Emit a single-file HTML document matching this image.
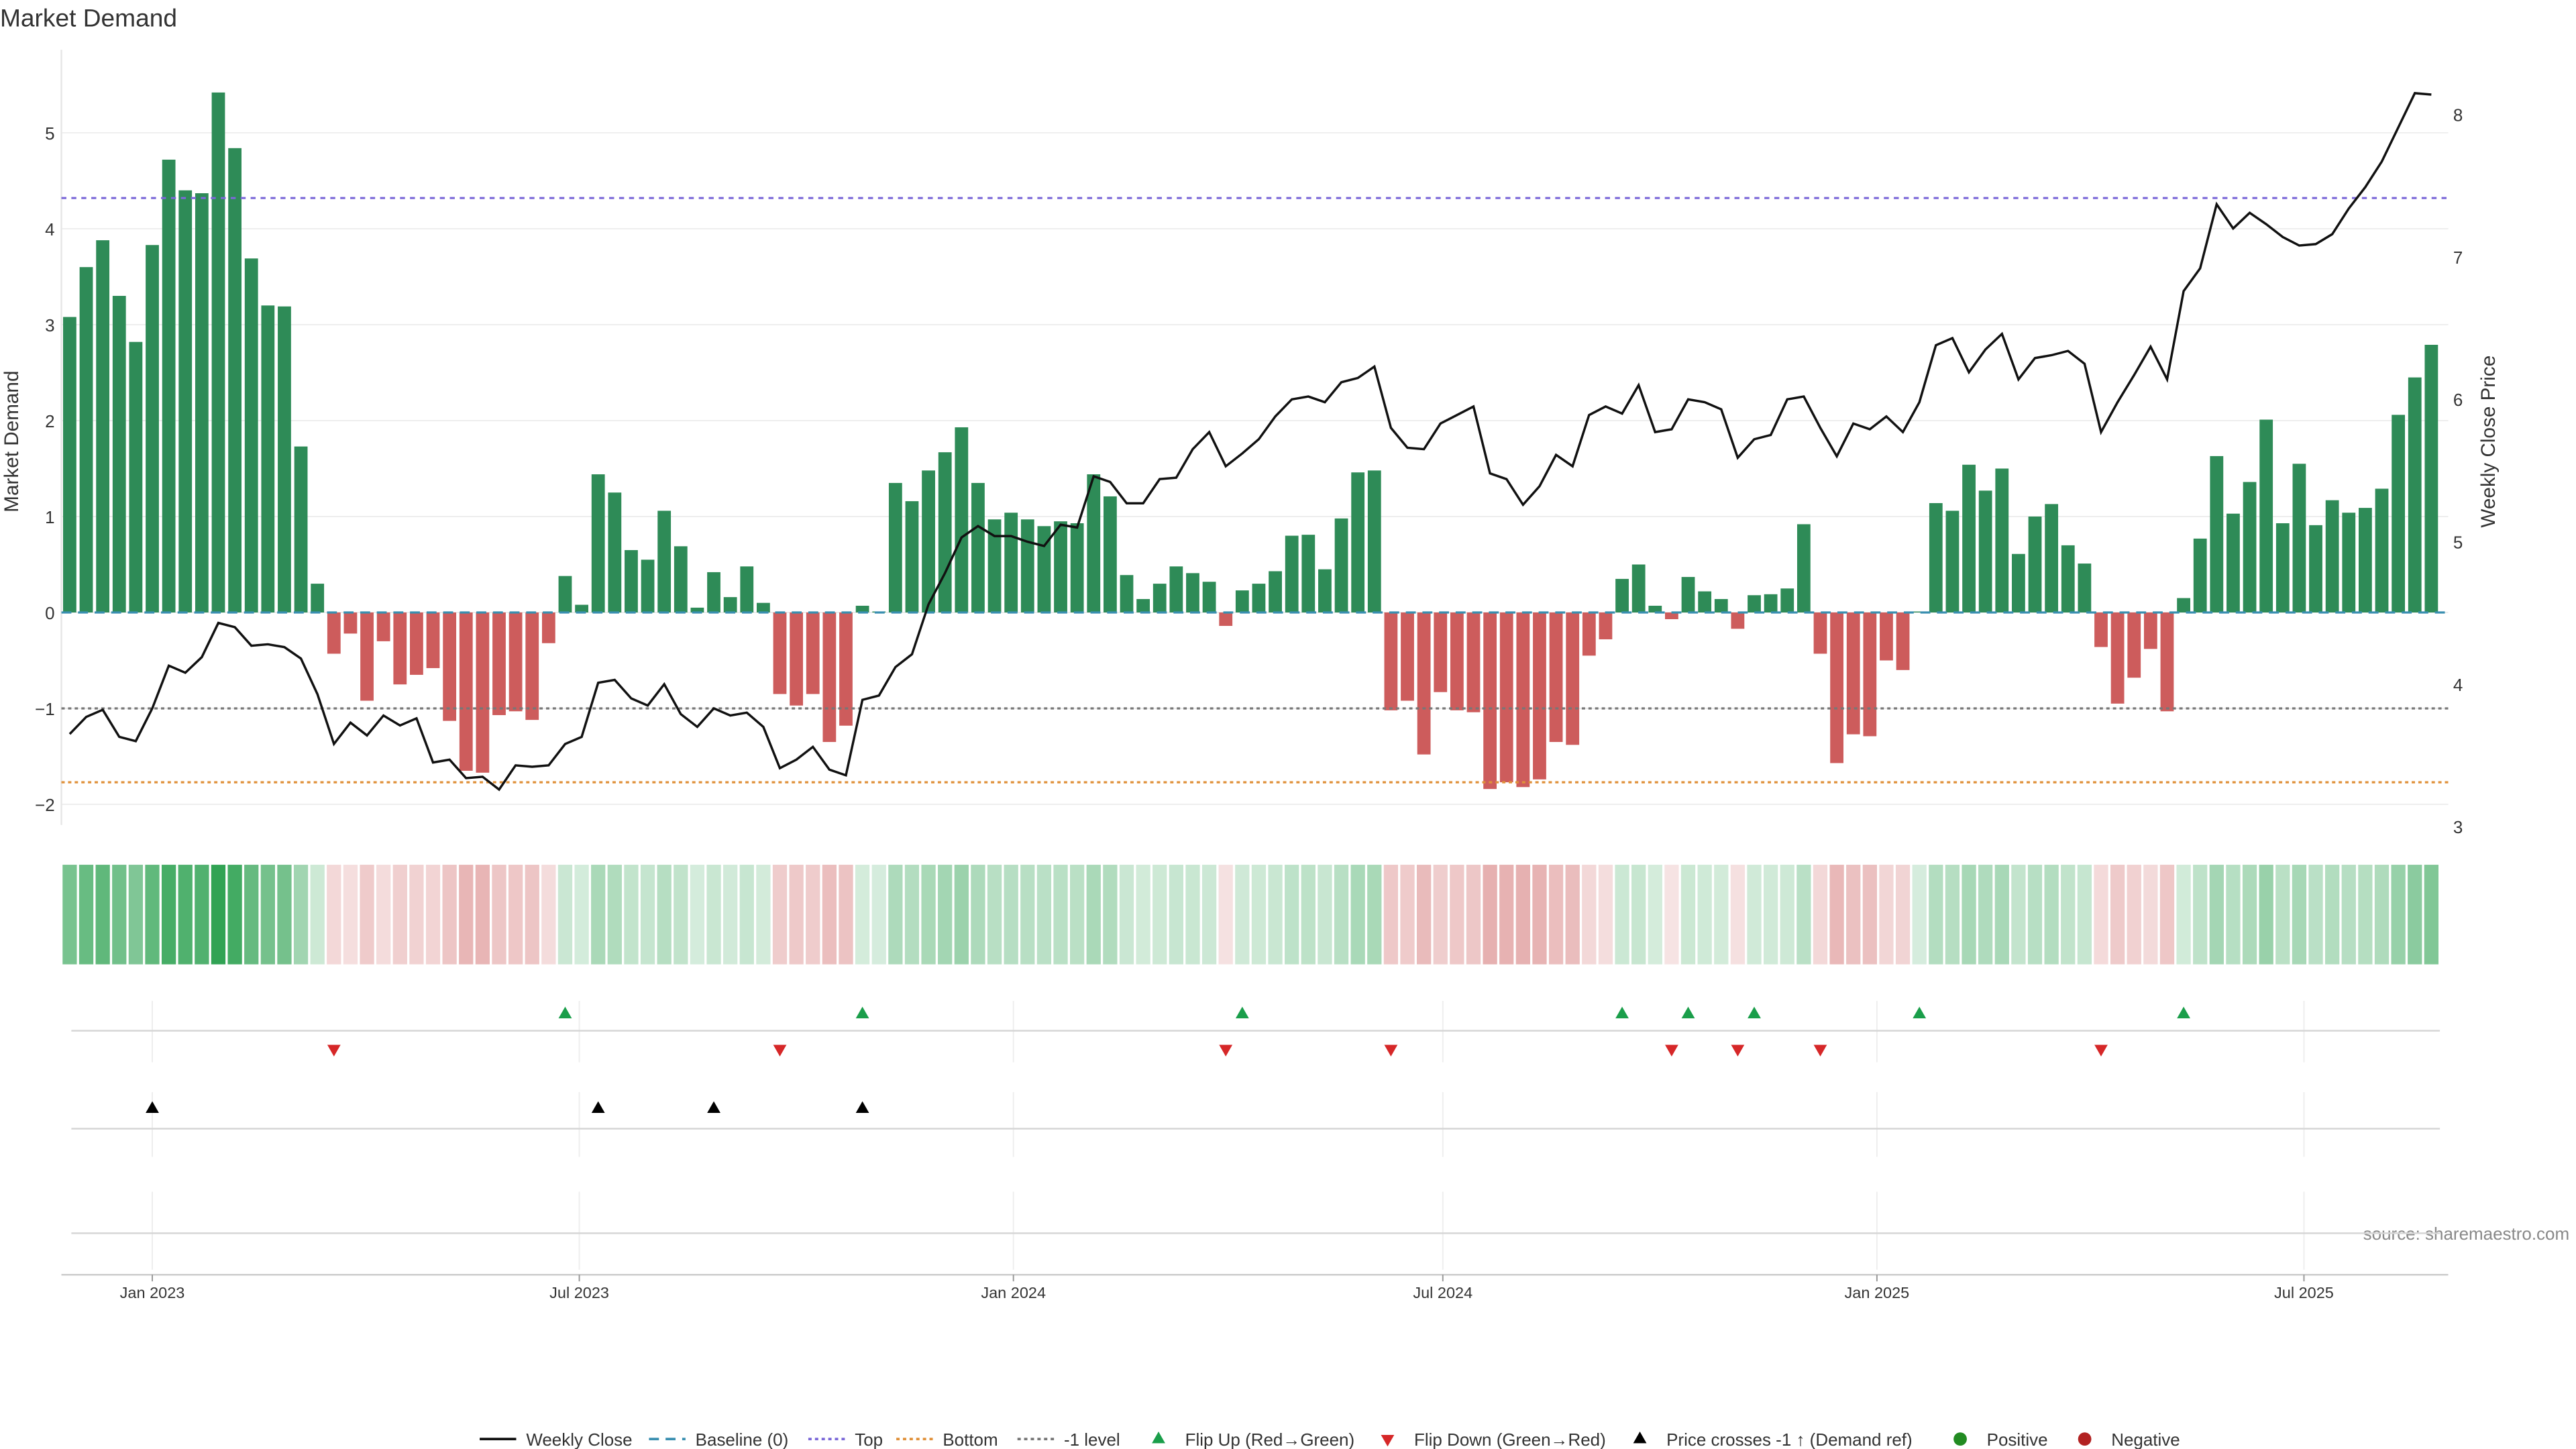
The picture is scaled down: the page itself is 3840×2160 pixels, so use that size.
<!DOCTYPE html>
<html><head><meta charset="utf-8">
<style>
html,body{margin:0;padding:0;background:#fff;}
svg{display:block;font-family:"Liberation Sans","DejaVu Sans",sans-serif;}
</style></head>
<body>
<svg id="chart" width="3840" height="2160" viewBox="0 0 1552 873" xmlns="http://www.w3.org/2000/svg">
<text x="0" y="16" font-size="15" fill="#333">Market Demand</text>
<text x="11" y="266" font-size="12" fill="#333" text-anchor="middle" transform="rotate(-90 11 266)">Market Demand</text>
<text x="1503" y="266" font-size="12" fill="#333" text-anchor="middle" transform="rotate(-90 1503 266)">Weekly Close Price</text>
<text x="1548" y="747" font-size="10.5" fill="#888" text-anchor="end">source: sharemaestro.com</text>
<g id="grid"></g><g id="bars"></g><g id="refs"></g><g id="price"></g><g id="heat"></g><g id="flips"></g><g id="xaxis"></g><g id="legend"></g>
</svg>
<script>
const demand=[3.08,3.6,3.88,3.3,2.82,3.83,4.72,4.4,4.37,5.42,4.84,3.69,3.2,3.19,1.73,0.3,
-0.43,-0.22,-0.92,-0.3,-0.75,-0.65,-0.58,-1.13,-1.65,-1.67,-1.07,-1.03,-1.12,-0.32,
0.38,0.08,1.44,1.25,0.65,0.55,1.06,0.69,0.05,0.42,0.16,0.48,0.1,
-0.85,-0.97,-0.85,-1.35,-1.18,
0.07,0.01,1.35,1.16,1.48,1.67,1.93,1.35,0.97,1.04,0.97,0.9,0.95,0.93,1.44,1.21,0.39,0.14,0.3,0.48,0.41,0.32,
-0.14,0.23,0.3,0.43,0.8,0.81,0.45,0.98,1.46,1.48,
-1.02,-0.92,-1.48,-0.83,-1.02,-1.04,-1.84,-1.77,-1.82,-1.74,-1.35,-1.38,-0.45,-0.28,
0.35,0.5,0.07,-0.07,0.37,0.22,0.14,-0.17,0.18,0.19,0.25,0.92,
-0.43,-1.57,-1.27,-1.29,-0.5,-0.6,
0.01,1.14,1.06,1.54,1.27,1.5,0.61,1.0,1.13,0.7,0.51,
-0.36,-0.95,-0.68,-0.38,-1.03,
0.15,0.77,1.63,1.03,1.36,2.01,0.93,1.55,0.91,1.17,1.04,1.09,1.29,2.06,2.45,2.79];
const closePrice=[3.65,3.77,3.82,3.63,3.6,3.83,4.13,4.08,4.19,4.43,4.4,4.27,4.28,4.26,4.18,3.93,
3.58,3.73,3.64,3.78,3.71,3.76,3.45,3.47,3.34,3.35,3.26,3.43,3.42,3.43,3.58,3.63,4.01,4.03,3.9,3.85,4.0,3.79,3.7,3.83,3.78,3.8,3.7,
3.41,3.47,3.56,3.4,3.36,3.89,3.92,4.12,4.21,4.56,4.78,5.03,5.11,5.04,5.04,5.0,4.97,5.12,5.1,5.46,5.42,5.27,5.27,5.44,5.45,5.65,5.77,
5.53,5.62,5.72,5.88,6.0,6.02,5.98,6.12,6.15,6.23,5.8,5.66,5.65,5.83,5.89,5.95,5.48,5.44,5.26,5.39,5.61,5.53,5.89,5.95,
5.9,6.1,5.77,5.79,6.0,5.98,5.93,5.59,5.72,5.75,6.0,6.02,5.8,5.6,5.83,5.79,5.88,5.77,5.98,6.38,6.43,6.19,6.35,6.46,6.14,6.29,
6.31,6.34,6.25,5.77,5.98,6.17,6.37,6.14,6.76,6.92,7.37,7.2,7.31,7.23,7.14,7.08,7.09,7.16,7.34,7.49,7.67,7.91,8.15,8.14];
const crossUpIdx=[5,32,39,48];
const leftTicks=[-2,-1,0,1,2,3,4,5];
const rightTicks=[3,4,5,6,7,8];
const xTickLabels=["Jan 2023","Jul 2023","Jan 2024","Jul 2024","Jan 2025","Jul 2025"];
const xTickDays=[35,216,400,582,766,947];
const levels={top:4.32,bottom:-1.77,minus1:-1};

const NS="http://www.w3.org/2000/svg";
function el(tag,attrs,parent,text){const e=document.createElementNS(NS,tag);for(const k in attrs)e.setAttribute(k,attrs[k]);if(text!==undefined)e.textContent=text;parent.appendChild(e);return e;}
const X0=42,PW=9.95;
const xi=i=>X0+i*PW;
const xd=d=>X0+d/7*PW;
const yL=v=>369-v*57.8;
const yR=p=>498-(p-3)*85.8;
const G=id=>document.getElementById(id);

// grid + axes
const grid=G('grid');
leftTicks.forEach(t=>{
  const l=el('line',{x1:37,x2:1475,y1:yL(t),y2:yL(t),stroke:'#eeeeee','stroke-width':0.8},grid);
  
  
  const tx=el('text',{x:33,y:yL(t)+4,'font-size':10.5,fill:'#333','text-anchor':'end'},grid,t<0?'\u2212'+Math.abs(t):String(t));
  
  
});
rightTicks.forEach(t=>{
  const tx=el('text',{x:1478,y:yR(t)+4,'font-size':10.5,fill:'#333'},grid,String(t));
  
  
});
el('line',{x1:37,x2:37,y1:30,y2:497,stroke:'#e6e6e6','stroke-width':1},grid);

// bars
const bars=G('bars');
demand.forEach((v,i)=>{
  const r=el('rect',{x:xi(i)-4,width:8,y:Math.min(yL(v),yL(0)),height:Math.abs(yL(v)-yL(0)),fill:v>=0?'#2e8b57':'#cd5c5c'},bars);
  
  
});

// reference lines
const refs=G('refs');
const rl=(v,col,dash,name)=>{const l=el('line',{x1:37,x2:1475,y1:yL(v),y2:yL(v),stroke:col,'stroke-width':1.3,'stroke-dasharray':dash},refs);
  
  };
rl(levels.top,'#7b68d8','3 3','top-line');
rl(levels.bottom,'#e0913a','2 2','bottom-line');
rl(levels.minus1,'#777','2 2','minus1-level-line');
rl(0,'#3a8fb0','6 4','baseline-zero');

// price line
const pr=G('price');
const pl=el('polyline',{points:closePrice.map((p,i)=>xi(i)+','+yR(p)).join(' '),fill:'none',stroke:'#111','stroke-width':1.4},pr);



// heatmap
const heat=G('heat');
const maxAbs=Math.max(...demand.map(Math.abs));
let minNeg=0;demand.forEach(v=>{if(v<minNeg)minNeg=v;});
demand.forEach((v,i)=>{
  let c;
  if(v>=0){const m=0.2+0.8*Math.min(1,v/maxAbs);c=`rgb(${Math.round(255-m*(255-49))},${Math.round(255-m*(255-163))},${Math.round(255-m*(255-84))})`;}
  else{const m=0.15+0.3*Math.min(1,v/minNeg);c=`rgb(${Math.round(255-m*55)},${Math.round(255-m*175)},${Math.round(255-m*175)})`;}
  const r=el('rect',{x:xi(i)-4.3,y:521,width:8.6,height:60,fill:c},heat);
  
  
});

// flips panels
const fl=G('flips');
[[603,640],[658,697],[718,765]].forEach(([a,b])=>{
  xTickDays.forEach(d=>{el('line',{x1:xd(d),x2:xd(d),y1:a,y2:b,stroke:'#eeeeee','stroke-width':0.8},fl);});
});
el('line',{x1:43,x2:1470,y1:621,y2:621,stroke:'#d6d6d6','stroke-width':1},fl);
el('line',{x1:43,x2:1470,y1:680,y2:680,stroke:'#d6d6d6','stroke-width':1},fl);
el('line',{x1:43,x2:1470,y1:743,y2:743,stroke:'#d6d6d6','stroke-width':1},fl);
const up=(x,y,col)=>`${x-4},${y+3.5} ${x+4},${y+3.5} ${x},${y-3.5}`;
const dn=(x,y)=>`${x-4},${y-3.5} ${x+4},${y-3.5} ${x},${y+3.5}`;
for(let i=1;i<demand.length;i++){
  if(demand[i-1]<0&&demand[i]>=0){const t=el('polygon',{points:up(xi(i),610),fill:'#1a9e4a'},fl);
    
    }
  if(demand[i-1]>=0&&demand[i]<0){const t=el('polygon',{points:dn(xi(i),633),fill:'#d62728'},fl);
    
    }
}
crossUpIdx.forEach(i=>{const t=el('polygon',{points:up(xi(i),667),fill:'#000'},fl);
  
  });

// x axis
const xa=G('xaxis');
el('line',{x1:37,x2:1475,y1:768,y2:768,stroke:'#cccccc','stroke-width':1},xa);
xTickDays.forEach((d,k)=>{
  el('line',{x1:xd(d),x2:xd(d),y1:768,y2:772,stroke:'#999','stroke-width':0.8},xa);
  const t=el('text',{x:xd(d),y:782,'font-size':9.5,fill:'#333','text-anchor':'middle'},xa,xTickLabels[k]);
  
  
});

// legend
const lg=G('legend');
const items=[
 {n:'legend-weekly-close',lbl:'Weekly Close',x:289,t:'line',c:'#111',d:''},
 {n:'legend-baseline',lbl:'Baseline (0)',x:391,t:'line',c:'#3a8fb0',d:'6 4'},
 {n:'legend-top',lbl:'Top',x:487,t:'line',c:'#7b68d8',d:'2 2'},
 {n:'legend-bottom',lbl:'Bottom',x:540,t:'line',c:'#e0913a',d:'2 2'},
 {n:'legend-minus1-level',lbl:'-1 level',x:613,t:'line',c:'#777',d:'2 2'},
 {n:'legend-flip-up',lbl:'Flip Up (Red\u2192Green)',x:698,t:'up',c:'#1a9e4a'},
 {n:'legend-flip-down',lbl:'Flip Down (Green\u2192Red)',x:836,t:'dn',c:'#d62728'},
 {n:'legend-price-cross',lbl:'Price crosses -1 \u2191 (Demand ref)',x:988,t:'up',c:'#000'},
 {n:'legend-positive',lbl:'Positive',x:1181,t:'dot',c:'#228b22'},
 {n:'legend-negative',lbl:'Negative',x:1256,t:'dot',c:'#b22222'}];
items.forEach(it=>{
  const g=el('g',{},lg);
  
  
  let tx;
  if(it.t==='line'){el('line',{x1:it.x,x2:it.x+22,y1:867,y2:867,stroke:it.c,'stroke-width':1.5,'stroke-dasharray':it.d},g);tx=it.x+28;}
  else if(it.t==='up'){el('polygon',{points:up(it.x,866),fill:it.c},g);tx=it.x+16;}
  else if(it.t==='dn'){el('polygon',{points:dn(it.x,868),fill:it.c},g);tx=it.x+16;}
  else {el('circle',{cx:it.x,cy:867,r:4,fill:it.c},g);tx=it.x+16;}
  el('text',{x:tx,y:871,'font-size':10.5,fill:'#333'},g,it.lbl);
});
</script>
</body></html>
